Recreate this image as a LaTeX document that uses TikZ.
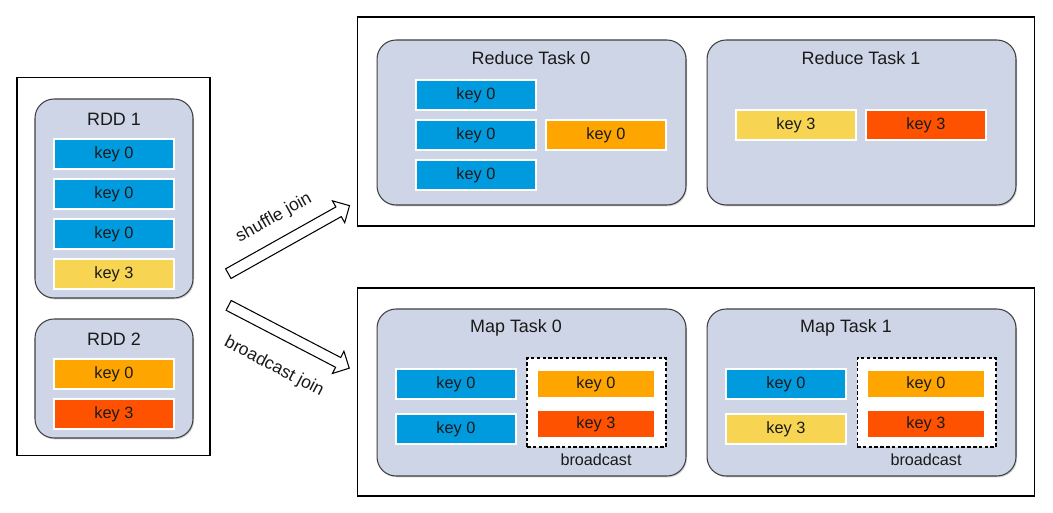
\documentclass[tikz,border=0pt]{standalone}
\usepackage{fontspec}
\setmainfont{Liberation Sans}
\usetikzlibrary{shapes.arrows,shadows}
\definecolor{keyBlue}{HTML}{009BDE}
\definecolor{keyOrange}{HTML}{FFA500}
\definecolor{keyRed}{HTML}{FF5200}
\definecolor{keyYellow}{HTML}{F7D452}
\definecolor{taskFill}{HTML}{CDD5E6}
\definecolor{textDark}{HTML}{1A1A1A}
\tikzset{
  keyNode/.style = {rectangle, draw=white, line width=1pt, minimum width=2.4cm,
    minimum height=0.6cm, inner sep=0pt, text=textDark, font=\fontsize{9.3}{11}\selectfont},
  %key colours
  keyBlueNode/.style = {keyNode, fill=keyBlue},
  keyOrangeNode/.style = {keyNode, fill=keyOrange},
  keyRedNode/.style = {keyNode, fill=keyRed},
  keyYellowNode/.style = {keyNode, fill=keyYellow},
  %broadcast copies are a bit smaller
  bcastKey/.style = {minimum width=2.36cm, minimum height=0.56cm},
  %plain frame
  outerBox/.style = {rectangle, draw=black, line width=0.6pt, fill=white, inner sep=0pt},
  %grey rounded container
  taskBox/.style = {rectangle, rounded corners=0.38cm, draw=black!75, line width=0.6pt,
    fill=taskFill, inner sep=0pt,
    drop shadow={opacity=0.35, shadow xshift=0.6pt, shadow yshift=-0.8pt}},
  titleNode/.style = {text=textDark, font=\fontsize{10.2}{12}\selectfont},
  %dashed broadcast frame
  bcastBox/.style = {rectangle, draw=black, dash pattern=on 2pt off 1.3pt, line width=0.6pt,
    fill=white, inner sep=0pt, minimum width=2.78cm, minimum height=1.78cm},
  bcastLabel/.style = {text=textDark, font=\fontsize{9.2}{11}\selectfont},
  blockArrow/.style = {single arrow, draw=black, fill=white, line width=0.6pt,
    inner xsep=0pt, inner ysep=0.1cm, minimum width=0.48cm, single arrow head extend=0.14cm,
    single arrow head indent=0pt},
  arrowLabel/.style = {text=textDark, font=\fontsize{10}{12}\selectfont}
}
\begin{document}
\begin{tikzpicture}[x=0.02cm, y=-0.02cm]
\useasboundingbox (0,0) rectangle (1053,513);
% left side: the two RDDs
\node [outerBox, minimum width=3.86cm, minimum height=7.58cm] (rdds) at (113.5,266.5) {};
\node [taskBox, minimum width=3.16cm, minimum height=3.98cm] (rdd1) at (114,198.5) {};
\node [titleNode] (rdd1t) at (114,119) {RDD 1};
\node [keyBlueNode] (r1k1) at (114,154) {key 0};
\node [keyBlueNode] (r1k2) at (114,194) {key 0};
\node [keyBlueNode] (r1k3) at (114,234) {key 0};
\node [keyYellowNode] (r1k4) at (114,274) {key 3};
\node [taskBox, minimum width=3.16cm, minimum height=2.38cm] (rdd2) at (114,378.5) {};
\node [titleNode] (rdd2t) at (114,339) {RDD 2};
\node [keyOrangeNode] (r2k1) at (114,374) {key 0};
\node [keyRedNode] (r2k2) at (114,414) {key 3};

% shuffle join
\node [outerBox, minimum width=13.56cm, minimum height=4.18cm] (shuffle) at (696,121.5) {};
\node [taskBox, minimum width=6.18cm, minimum height=3.3cm] (red0) at (531.5,122.5) {};
\node [titleNode] (red0t) at (531,58) {Reduce Task 0};
\node [keyBlueNode] (d0k1) at (476,95) {key 0};
\node [keyBlueNode] (d0k2) at (476,135) {key 0};
\node [keyBlueNode] (d0k3) at (476,175) {key 0};
\node [keyOrangeNode] (d0k4) at (606,135) {key 0};
\node [taskBox, minimum width=6.18cm, minimum height=3.3cm] (red1) at (861.5,122.5) {};
\node [titleNode] (red1t) at (861,58) {Reduce Task 1};
\node [keyYellowNode] (d1k1) at (796,125) {key 3};
\node [keyRedNode] (d1k2) at (926,125) {key 3};

% broadcast join
\node [outerBox, minimum width=13.56cm, minimum height=4.16cm] (bcast) at (696,392) {};
\node [taskBox, minimum width=6.18cm, minimum height=3.34cm] (map0) at (531.5,392.5) {};
\node [titleNode] (map0t) at (516,328) {Map Task 0};
\node [keyBlueNode] (m0k1) at (456,384) {key 0};
\node [keyBlueNode] (m0k2) at (456,429) {key 0};
\node [bcastBox] (m0b) at (596.5,402.5) {};
\node [keyOrangeNode, bcastKey] (m0b1) at (596,384) {key 0};
\node [keyRedNode, bcastKey] (m0b2) at (596,424) {key 3};
\node [bcastLabel] (m0bl) at (596,460) {broadcast};
\node [taskBox, minimum width=6.18cm, minimum height=3.34cm] (map1) at (861.5,392.5) {};
\node [titleNode] (map1t) at (846,328) {Map Task 1};
\node [keyBlueNode] (m1k1) at (786,384) {key 0};
\node [keyYellowNode] (m1k2) at (786,429) {key 3};
\node [bcastBox] (m1b) at (926.5,402.5) {};
\node [keyOrangeNode, bcastKey] (m1b1) at (926,384) {key 0};
\node [keyRedNode, bcastKey] (m1b2) at (926,424) {key 3};
\node [bcastLabel] (m1bl) at (926,460) {broadcast};

% the two block arrows
\node [blockArrow, rotate=29.3, minimum height=2.78cm] (shuffleArrow) at (286.5,241) {};
\node [arrowLabel, rotate=29.3] (shuffleText) at (274,218) {shuffle join};
\node [blockArrow, rotate=-27.5, minimum height=2.72cm] (bcastArrow) at (286.5,335.5) {};
\node [arrowLabel, rotate=-27.5] (bcastText) at (274,367) {broadcast join};
\end{tikzpicture}
\end{document}
